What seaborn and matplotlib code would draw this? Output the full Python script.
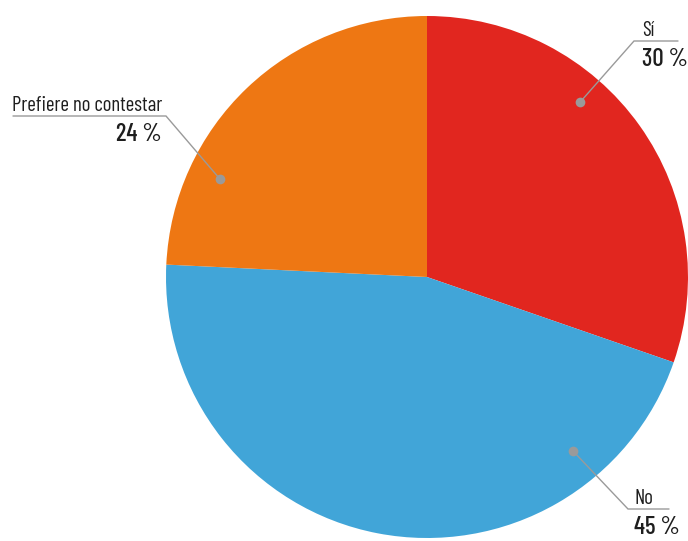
import numpy as np
import matplotlib
matplotlib.use("Agg")
import matplotlib.pyplot as plt
import seaborn as sns
from matplotlib import font_manager

# Survey answers and their shares (percent)
categories = ["Sí", "No", "Prefiere no contestar"]
shares = [30, 45, 24]
value_labels = ["30 %", "45 %", "24 %"]
colors = ["#E1261F", "#41A5D8", "#EE7713"]

# Label layout in canvas pixels (x right, y down): anchor angle of the dot,
# elbow of the leader line, end of the underline, side of the text
label_layout = {
    "Sí": dict(angle=48.8, rad=0.89, elbow=(634, 41), end=678, side="right", pad=8),
    "No": dict(angle=-50.0, rad=0.87, elbow=(628, 509), end=669, side="right", pad=6),
    "Prefiere no contestar": dict(angle=154.7, rad=0.877, elbow=(166, 116), end=13, side="left", pad=4),
}

sns.set_theme(style="white")
available = {f.name for f in font_manager.fontManager.ttflist}
families = [n for n in ["Barlow Condensed", "Roboto Condensed"] if n in available] + ["DejaVu Sans"]
plt.rcParams["font.family"] = families

W, H = 688, 541
fig = plt.figure(figsize=(W / 100, H / 100), dpi=100)
ax = fig.add_axes([0, 0, 1, 1])

cx, cy, R = 427, H - 277, 261
ax.pie(shares, colors=colors, startangle=90, counterclock=False,
       center=(cx, cy), radius=R, frame=True,
       wedgeprops=dict(linewidth=0, antialiased=True))
ax.set_xlim(0, W)
ax.set_ylim(0, H)
ax.set_aspect("equal")
ax.axis("off")

line_col = "#9A9A9A"
text_col = "#1E1E1E"
for cat, val in zip(categories, value_labels):
    lay = label_layout[cat]
    a = np.deg2rad(lay["angle"])
    dx = cx + lay["rad"] * R * np.cos(a)
    dy = cy + lay["rad"] * R * np.sin(a)
    ex, ey = lay["elbow"][0], H - lay["elbow"][1]
    ax.plot([dx, ex, lay["end"]], [dy, ey, ey], color=line_col, lw=1.0,
            solid_joinstyle="miter", zorder=3)
    ax.plot(dx, dy, "o", ms=7, color=line_col, mec="none", zorder=4)
    if lay["side"] == "right":
        tx, ha = ex + lay["pad"], "left"
    else:
        tx, ha = ex - lay["pad"], "right"
    ax.text(tx, ey + 5, cat, ha=ha, va="baseline", fontsize=15,
            fontweight="normal", color=text_col, zorder=5)
    ax.text(tx, ey - 25, val, ha=ha, va="baseline", fontsize=18,
            fontweight="medium", color=text_col, zorder=5)

fig.savefig("out.png", dpi=100)
